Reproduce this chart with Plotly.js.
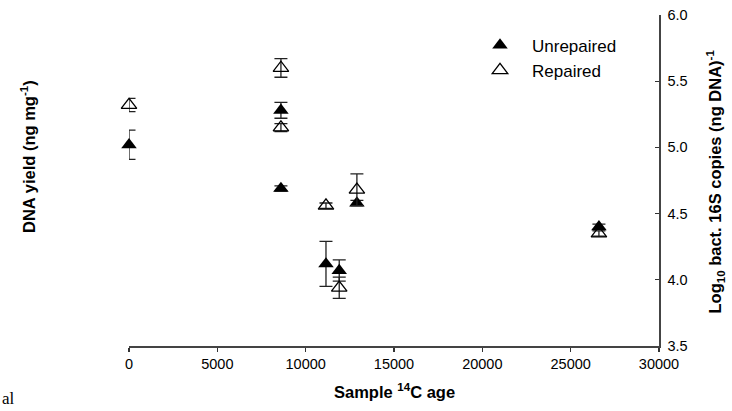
<!DOCTYPE html>
<html>
<head>
<meta charset="utf-8">
<script src="https://cdn.plot.ly/plotly-3.0.1.min.js"></script>
<style>
html,body{margin:0;padding:0;background:#fff;}
#chart{width:732px;height:411px;}
</style>
</head>
<body>
<div id="chart"></div>
<script>
// Sample 14C ages (years)
const agesUnrepaired = [0, 8600, 8600, 11150, 11900, 12900, 26600];
const unrepaired     = [5.02, 5.28, 4.69, 4.12, 4.07, 4.58, 4.40];
const unrepairedErr  = [0.11, 0.06, 0.02, 0.17, 0.08, 0.02, 0.02];

const agesRepaired = [0, 8600, 8600, 11150, 11900, 12900, 26600];
const repaired     = [5.32, 5.60, 5.15, 4.56, 3.94, 4.68, 4.35];
const repairedErr  = [0.05, 0.07, 0.03, 0.02, 0.08, 0.12, 0.02];

const xTicks = [0, 5000, 10000, 15000, 20000, 25000, 30000];
const yTicks = [3.5, 4.0, 4.5, 5.0, 5.5, 6.0];

const FONT = 'Liberation Sans, Arial, sans-serif';

// plot area in pixels: x 129..659, y 15..346
const L = 129, R = 659, T = 15, B = 346;
const px = v => (v - L) / (R - L);
const py = v => (B - v) / (B - T);

const traces = [
  {
    name: 'Unrepaired', x: agesUnrepaired, y: unrepaired, type: 'scatter', mode: 'markers',
    marker: {symbol: 'triangle-up', size: 13.5, color: '#000', line: {width: 0}},
    error_y: {type: 'data', array: unrepairedErr, visible: true, color: '#222', thickness: 1.3, width: 6.5},
    cliponaxis: false
  },
  {
    name: 'Repaired', x: agesRepaired, y: repaired, type: 'scatter', mode: 'markers',
    marker: {symbol: 'triangle-up-open', size: 13.5, color: '#000', line: {width: 1.3, color: '#000'}},
    error_y: {type: 'data', array: repairedErr, visible: true, color: '#222', thickness: 1.3, width: 6.5},
    cliponaxis: false
  }
];

const layout = {
  width: 732, height: 411,
  margin: {l: L, r: 732 - R, t: T, b: 411 - B, pad: 0},
  paper_bgcolor: '#fff', plot_bgcolor: '#fff',
  font: {family: FONT, size: 14.5, color: '#000'},
  showlegend: true,
  legend: {
    x: px(468), y: py(27.5), xanchor: 'left', yanchor: 'top',
    font: {family: FONT, size: 17, color: '#000'},
    bgcolor: 'rgba(0,0,0,0)', traceorder: 'normal', itemwidth: 54
  },
  xaxis: {
    range: [0, 30000], tickvals: xTicks, ticktext: xTicks.map(String),
    ticks: 'outside', ticklen: 4, tickwidth: 1.2, tickcolor: '#333',
    showline: true, linecolor: '#444', linewidth: 1.5,
    showgrid: false, zeroline: false,
    tickfont: {family: FONT, size: 14.5, color: '#000'}
  },
  yaxis: {
    side: 'right', range: [3.5, 6.0], tickvals: yTicks, ticktext: yTicks.map(v => v.toFixed(1)),
    ticks: 'inside', ticklen: 4, tickwidth: 1.2, tickcolor: '#333',
    showline: true, linecolor: '#444', linewidth: 1.5,
    showgrid: false, zeroline: false,
    tickfont: {family: FONT, size: 14.5, color: '#000'},
    ticklabelstandoff: 4
  },
  annotations: [
    {
      text: '<b>Sample <sup>14</sup>C age</b>', xref: 'paper', yref: 'paper',
      x: px(394), y: py(391), xanchor: 'center', yanchor: 'middle',
      showarrow: false, font: {family: FONT, size: 16.5, color: '#000'}
    },
    {
      text: '<b>Log<sub>10</sub> bact. 16S copies (ng DNA)<sup>-1</sup></b>', xref: 'paper', yref: 'paper',
      x: px(715), y: py(181.5), xanchor: 'center', yanchor: 'middle',
      textangle: -90, showarrow: false, font: {family: FONT, size: 16.5, color: '#000'}
    },
    {
      text: '<b>DNA yield (ng mg<sup>-1</sup>)</b>', xref: 'paper', yref: 'paper',
      x: px(28), y: py(157), xanchor: 'center', yanchor: 'middle',
      textangle: -90, showarrow: false, font: {family: FONT, size: 16.5, color: '#000'}
    },
    {
      text: 'al', xref: 'paper', yref: 'paper',
      x: px(0), y: py(398), xanchor: 'left', yanchor: 'middle',
      showarrow: false, font: {family: 'Liberation Serif, Times New Roman, serif', size: 17, color: '#000'}
    }
  ]
};

Plotly.newPlot('chart', traces, layout, {displayModeBar: false, staticPlot: true});
</script>
</body>
</html>
